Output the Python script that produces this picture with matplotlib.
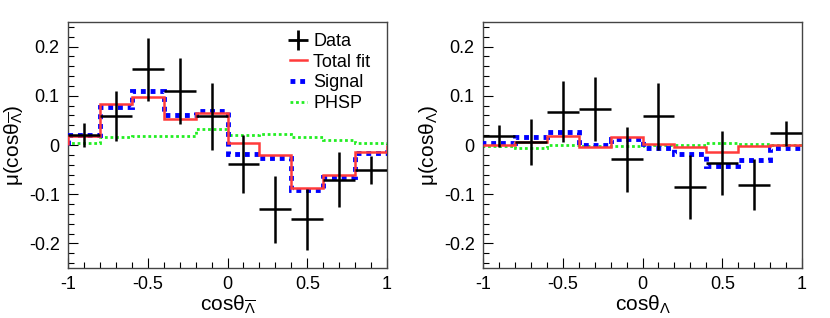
import numpy as np
import matplotlib
matplotlib.use("Agg")
import matplotlib.pyplot as plt
from matplotlib.ticker import MultipleLocator
from matplotlib.lines import Line2D

plt.rcParams['font.family'] = ['Liberation Sans', 'DejaVu Sans']
plt.rcParams['mathtext.fontset'] = 'custom'
plt.rcParams['mathtext.rm'] = 'Liberation Sans'
plt.rcParams['mathtext.it'] = 'Liberation Sans'

# bin edges and centres in cos(theta)
edges = np.linspace(-1, 1, 11)
centres = 0.5 * (edges[1:] + edges[:-1])

# anti-Lambda panel
data_bar = [0.020, 0.059, 0.154, 0.109, 0.058, -0.038, -0.131, -0.151,
            -0.071, -0.051]
err_bar = [0.024, 0.050, 0.064, 0.067, 0.068, 0.059, 0.068, 0.062,
           0.056, 0.028]
fit_bar = [0.018, 0.083, 0.097, 0.053, 0.066, 0.004, -0.021, -0.087,
           -0.060, -0.014]
sig_bar = [0.021, 0.077, 0.110, 0.060, 0.070, -0.019, -0.026, -0.091,
           -0.065, -0.016]
phsp_bar = [0.005, 0.016, 0.019, 0.018, 0.032, 0.020, 0.023, 0.016,
            0.011, 0.004]

# Lambda panel
data_lam = [0.018, 0.006, 0.068, 0.074, -0.029, 0.058, -0.086, -0.037,
            -0.081, 0.024]
err_lam = [0.023, 0.047, 0.062, 0.065, 0.066, 0.069, 0.065, 0.065,
           0.052, 0.025]
fit_lam = [0.000, 0.006, 0.018, -0.004, 0.016, 0.003, -0.005, -0.014,
           -0.003, 0.001]
sig_lam = [0.004, 0.016, 0.026, 0.000, 0.012, -0.007, -0.018, -0.043,
           -0.030, -0.006]
phsp_lam = [-0.002, -0.006, 0.000, -0.001, -0.003, 0.001, 0.001, 0.005,
            0.003, 0.001]

RED = '#ff3b3b'
BLUE = '#0000ff'
GREEN = '#22ee22'


def zero_fmt(v, p):
    return '0' if abs(v) < 1e-9 else '%g' % v


def draw_panel(ax, data, err, fit, sig, phsp, sub):
    ax.stairs(phsp, edges, color=GREEN, lw=2.0, ls=(0, (1, 1)), zorder=2)
    ax.stairs(sig, edges, color=BLUE, lw=3.5, ls=(0, (1, 1)), zorder=3)
    ax.stairs(fit, edges, color=RED, lw=1.8, zorder=4)
    ax.errorbar(centres, data, xerr=0.1, yerr=err, fmt='none',
                ecolor='black', elinewidth=1.8, capsize=0, zorder=5)

    ax.set_xlim(-1, 1)
    ax.set_ylim(-0.25, 0.25)
    ax.xaxis.set_major_locator(MultipleLocator(0.5))
    ax.xaxis.set_minor_locator(MultipleLocator(0.1))
    ax.yaxis.set_major_locator(MultipleLocator(0.1))
    ax.yaxis.set_minor_locator(MultipleLocator(0.02))
    ax.tick_params(which='both', direction='in', top=False, right=False,
                   labelsize=13, pad=6)
    ax.tick_params(which='major', length=7, width=0.8)
    ax.tick_params(which='minor', length=4, width=0.8)
    ax.xaxis.set_major_formatter(plt.FuncFormatter(zero_fmt))
    ax.yaxis.set_major_formatter(plt.FuncFormatter(zero_fmt))
    for sp in ax.spines.values():
        sp.set_color('#444444')
        sp.set_linewidth(1.0)

    ax.set_xlabel(r'cos$\theta_{%s}$' % sub, fontsize=15, labelpad=0)
    ax.set_ylabel(r'$\mu$(cos$\theta_{%s}$)' % sub, fontsize=15,
                  labelpad=3)


def main():
    fig = plt.figure(figsize=(8.3, 3.18), dpi=100)
    ax1 = fig.add_axes([0.0819, 0.1572, 0.3844, 0.7736])
    ax2 = fig.add_axes([0.5819, 0.1572, 0.3844, 0.7736])

    draw_panel(ax1, data_bar, err_bar, fit_bar, sig_bar, phsp_bar,
               r'\overline{\Lambda}')
    draw_panel(ax2, data_lam, err_lam, fit_lam, sig_lam, phsp_lam,
               r'\Lambda')

    handles = [
        Line2D([], [], color='black', lw=1.8, marker='+', ms=15, mew=2.0,
               ls='none'),
        Line2D([], [], color=RED, lw=1.8),
        Line2D([], [], color=BLUE, lw=3.5, ls=(0, (1, 1))),
        Line2D([], [], color=GREEN, lw=2.0, ls=(0, (1, 1))),
    ]
    ax1.legend(handles, ['Data', 'Total fit', 'Signal', 'PHSP'],
               loc='upper left', bbox_to_anchor=(0.695, 0.955),
               frameon=False, fontsize=13, handlelength=0.95,
               handletextpad=0.35, labelspacing=0.2, borderpad=0,
               borderaxespad=0)

    fig.savefig('out.png', dpi=100)
    plt.close('all')


if __name__ == '__main__':
    main()
